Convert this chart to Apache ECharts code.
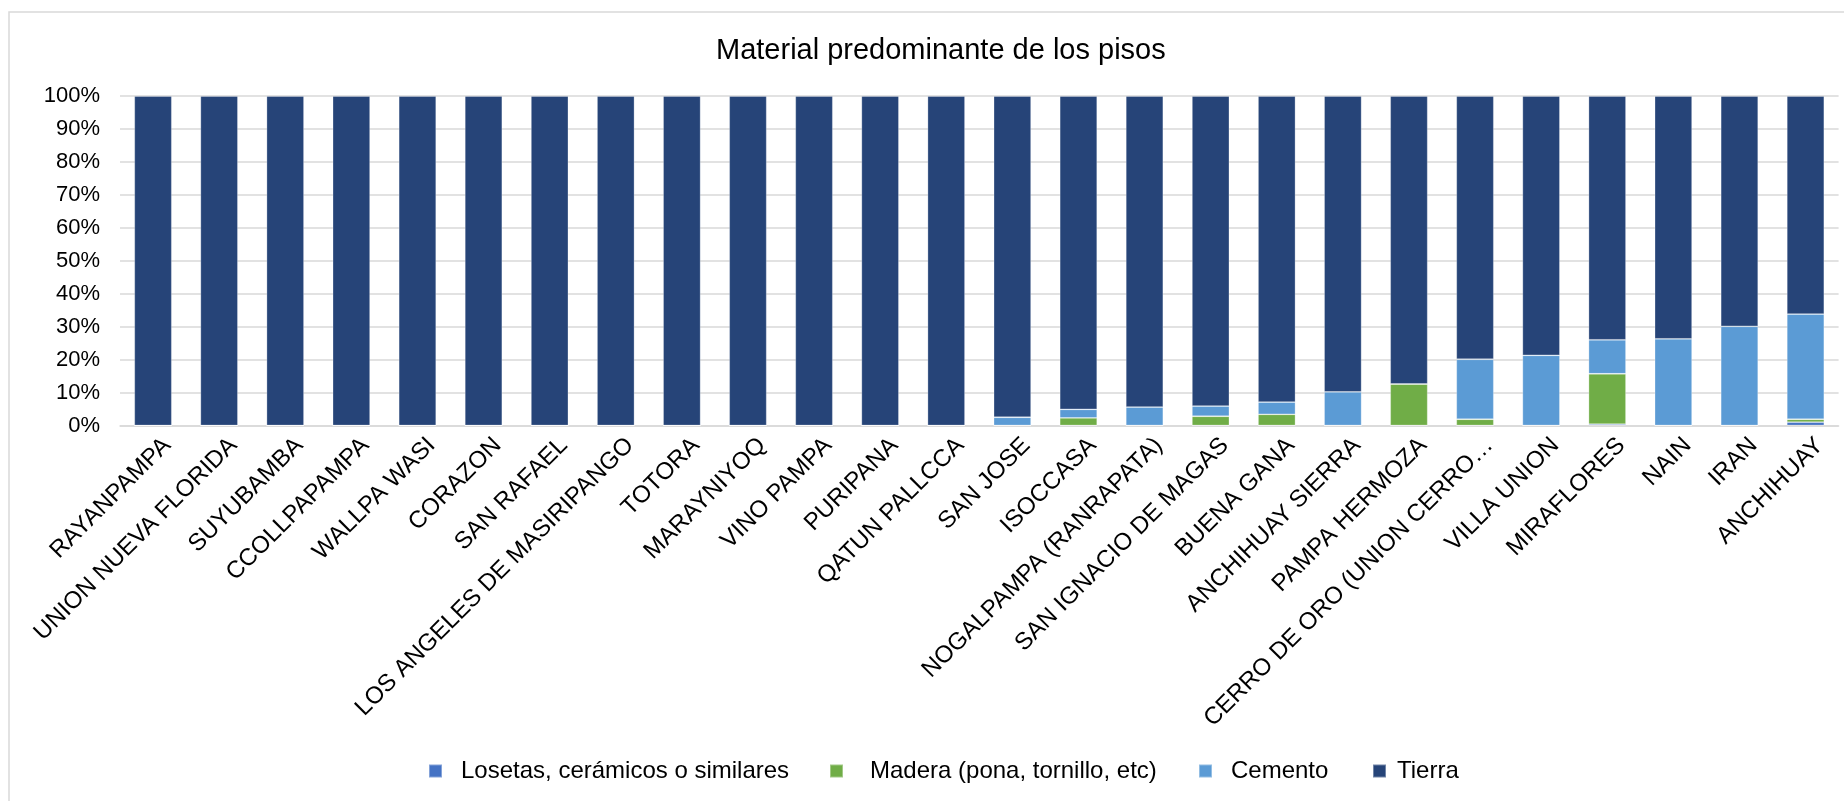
<!DOCTYPE html>
<html lang="es">
<head>
    <meta charset="UTF-8">
    <title>Material predominante de los pisos</title>
    <script src="https://cdn.jsdelivr.net/npm/echarts@6/dist/echarts.min.js"></script>
</head>
<style>
    *{
        margin: 0;
        padding: 0;
    }
    html, body{
        width: 1844px;
        height: 801px;
        background: #fff;
        overflow: hidden;
    }
    .container{
        width: 1844px;
        height: 801px;
    }
</style>
<body>
<div class="container"></div>
<script>
    let categories = ['RAYANPAMPA', 'UNION NUEVA FLORIDA', 'SUYUBAMBA', 'CCOLLPAPAMPA', 'WALLPA WASI',
        'CORAZON', 'SAN RAFAEL', 'LOS ANGELES DE MASIRIPANGO', 'TOTORA', 'MARAYNIYOQ', 'VINO PAMPA',
        'PURIPANA', 'QATUN PALLCCA', 'SAN JOSE', 'ISOCCASA', 'NOGALPAMPA (RANRAPATA)',
        'SAN IGNACIO DE MAGAS', 'BUENA GANA', 'ANCHIHUAY SIERRA', 'PAMPA HERMOZA',
        'CERRO DE ORO (UNION CERRO…', 'VILLA UNION', 'MIRAFLORES', 'NAIN', 'IRAN', 'ANCHIHUAY'];

    let seriesNames = ['Losetas, cerámicos o similares', 'Madera (pona, tornillo, etc)', 'Cemento', 'Tierra'];

    // porcentajes por centro poblado
    let losetas = [0, 0, 0, 0, 0, 0, 0, 0, 0, 0, 0, 0, 0, 0, 0, 0, 0, 0, 0, 0, 0, 0, 0.4, 0, 0, 1.0];
    let madera  = [0, 0, 0, 0, 0, 0, 0, 0, 0, 0, 0, 0, 0, 0, 2.3, 0, 2.8, 3.4, 0, 12.6, 1.9, 0, 15.3, 0, 0, 0.9];
    let cemento = [0, 0, 0, 0, 0, 0, 0, 0, 0, 0, 0, 0, 0, 2.5, 2.6, 5.6, 3.1, 3.7, 10.2, 0, 18.2, 21.3, 10.3, 26.3, 30.1, 31.9];
    let tierra  = [100, 100, 100, 100, 100, 100, 100, 100, 100, 100, 100, 100, 100, 97.5, 95.1, 94.4, 94.1, 92.9, 89.8, 87.4, 79.9, 78.7, 74.0, 73.7, 69.9, 66.2];

    let colors = ['#4472C4', '#70AD47', '#5B9BD5', '#264478'];
    let values = [losetas, madera, cemento, tierra];

    let container = document.querySelector('.container');
    let mycharts = echarts.init(container);

    let font = 'Liberation Sans, Arial, sans-serif';

    let series = seriesNames.map((name, i) => ({
        name: name,
        type: 'bar',
        stack: 'total',
        barWidth: '56.7%',
        data: values[i],
        itemStyle: {
            color: colors[i],
            borderColor: 'rgba(255,255,255,0.35)',
            borderWidth: 0.8
        }
    }));

    // cada leyenda en su sitio, como en el original
    let legendLeft = [428, 829, 1198, 1372];
    let legendPad = [14, 22, 14, 6];
    let legend = seriesNames.map((name, i) => ({
        data: [name],
        left: legendLeft[i],
        top: 759,
        padding: 0,
        icon: 'rect',
        itemWidth: 13,
        itemHeight: 13,
        textStyle: {
            fontFamily: font,
            fontSize: 24,
            color: '#000',
            padding: [0, 0, 0, legendPad[i]]
        }
    }));

    let options = {
        backgroundColor: '#fff',
        color: colors,
        animation: false,
        title: {
            text: 'Material predominante de los pisos',
            left: 711,
            top: 31,
            textStyle: {
                fontFamily: font,
                fontSize: 29,
                fontWeight: 'normal',
                color: '#000'
            }
        },
        graphic: [{
            type: 'rect',
            shape: {x: 9, y: 12, width: 1900, height: 900},
            style: {fill: 'none', stroke: '#d9d9d9', lineWidth: 1.5},
            silent: true
        }],
        legend,
        grid: {
            left: 120,
            right: 5.4,
            top: 96,
            bottom: 375.5
        },
        xAxis: {
            type: 'category',
            data: categories,
            axisTick: {show: false},
            axisLine: {lineStyle: {color: '#d9d9d9', width: 1.5}},
            axisLabel: {
                interval: 0,
                rotate: 45,
                margin: 2,
                verticalAlign: 'top',
                lineHeight: 40,
                fontFamily: font,
                fontSize: 24,
                color: '#000'
            }
        },
        yAxis: {
            type: 'value',
            min: 0,
            max: 100,
            interval: 10,
            axisLine: {show: false},
            axisTick: {show: false},
            axisLabel: {
                formatter: '{value}%',
                margin: 20,
                fontFamily: font,
                fontSize: 22,
                color: '#000'
            },
            splitLine: {lineStyle: {color: '#d9d9d9', width: 1.5}}
        },
        series,
    };

    mycharts.setOption(options);
</script>
</body>
</html>
